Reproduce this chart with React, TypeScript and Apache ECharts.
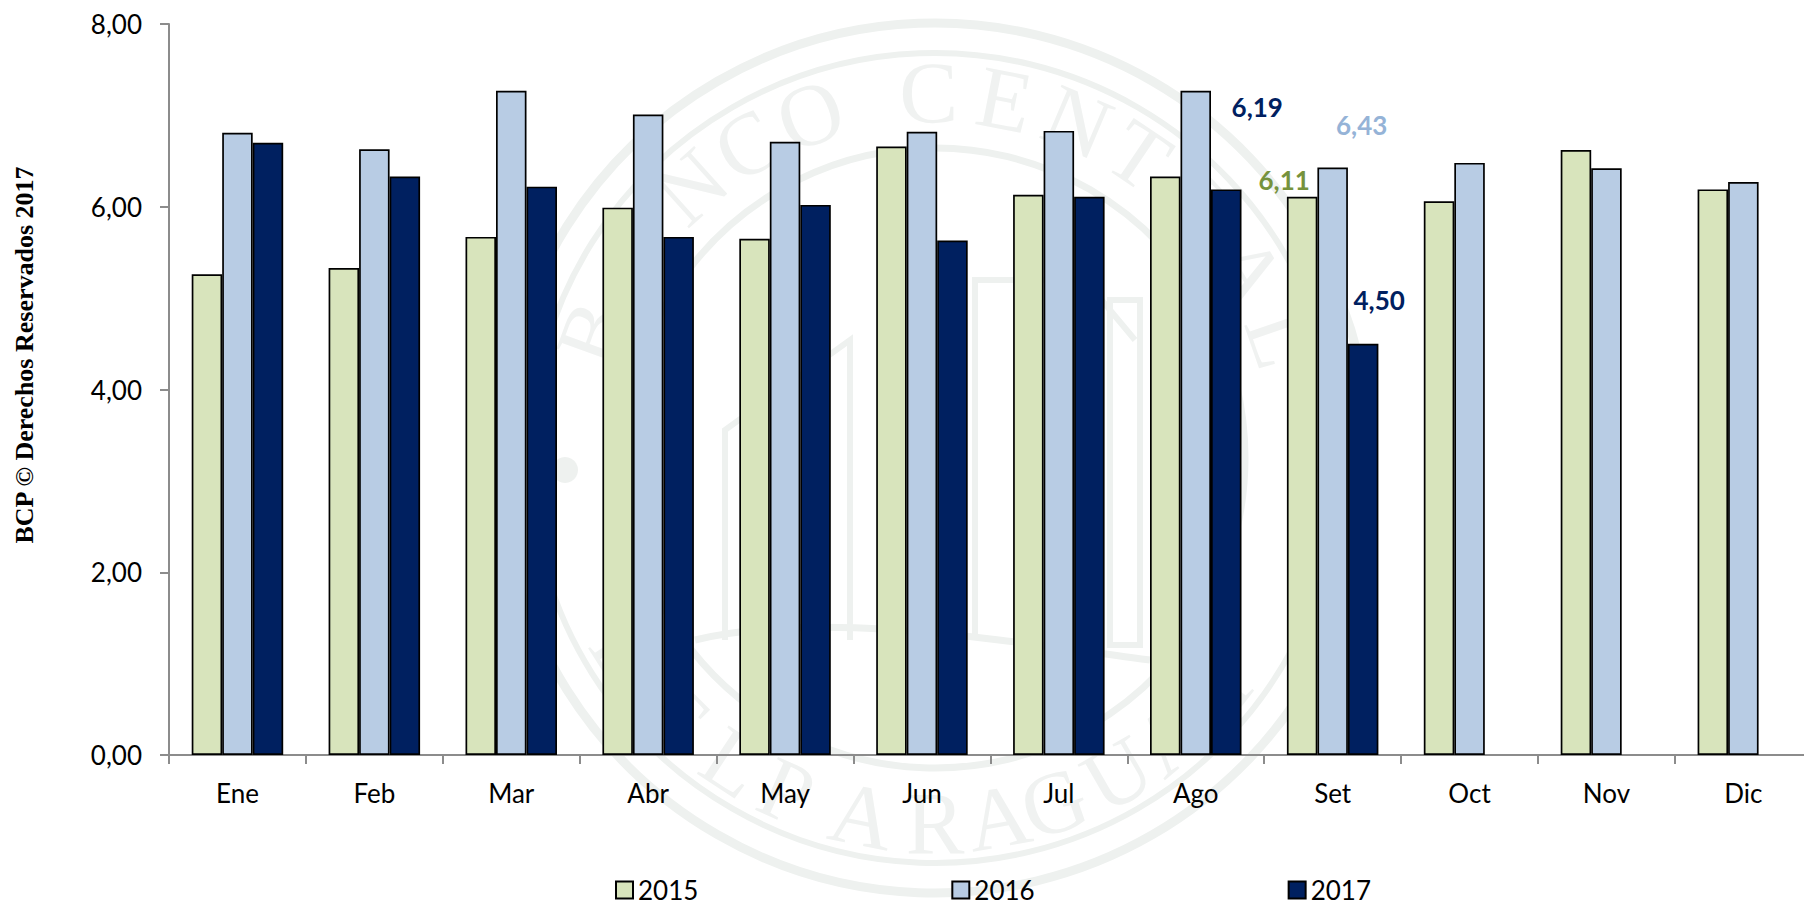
import React, { useEffect, useRef } from "react";
import * as echarts from "echarts";

const categories = ["Ene", "Feb", "Mar", "Abr", "May", "Jun", "Jul", "Ago", "Set", "Oct", "Nov", "Dic"];
const values2015 = [5.26, 5.33, 5.67, 5.99, 5.65, 6.66, 6.13, 6.33, 6.11, 6.06, 6.62, 6.19];
const values2016 = [6.81, 6.63, 7.27, 7.01, 6.71, 6.82, 6.83, 7.27, 6.43, 6.48, 6.42, 6.27];
const values2017 = [6.7, 6.33, 6.22, 5.67, 6.02, 5.63, 6.11, 6.19, 4.5, null, null, null];
const seriesNames = ["2015", "2016", "2017"];
const topLetters = "BANCOCENTRAL".split("");
const topAngles = [-70, -56, -42, -31, -20, -1, 11, 23, 34, 47, 59, 71];
const bottomLetters = "DELPARAGUAY".split("");
const bottomAngles = [237, 225, 213.5, 204, 191.5, 180, 170, 161, 150, 140, 128];

const FONT = "Lato";
const WM = "#eef1ef";
const WM_TEXT = "#f0f2f1";
const fmt = (v: number) => v.toFixed(2).replace(".", ",");

function ring(cx: number, cy: number, r: number, lineWidth: number) {
  return { type: "circle", z: 0, silent: true, shape: { cx, cy, r }, style: { fill: "none", stroke: WM, lineWidth } };
}

function watermark() {
  const cx = 935;
  const cy = 458;
  const r = 365;
  const els: any[] = [
    ring(cx, cy, 435, 9),
    ring(cx, cy, 405, 6),
    ring(cx, cy, 310, 7),
    { type: "circle", z: 0, silent: true, shape: { cx: 565, cy: 470, r: 13 }, style: { fill: WM } },
    { type: "circle", z: 0, silent: true, shape: { cx: 1305, cy: 470, r: 13 }, style: { fill: WM } },
    { type: "polyline", z: 0, silent: true, shape: { points: [[725, 640], [725, 430], [850, 340], [850, 640]] }, style: { fill: "none", stroke: WM, lineWidth: 6 } },
    { type: "polyline", z: 0, silent: true, shape: { points: [[975, 640], [975, 280], [1085, 280], [1135, 340]] }, style: { fill: "none", stroke: WM, lineWidth: 6 } },
    { type: "rect", z: 0, silent: true, shape: { x: 1110, y: 300, width: 30, height: 345 }, style: { fill: "none", stroke: WM, lineWidth: 6 } },
    { type: "bezierCurve", z: 0, silent: true, shape: { x1: 695, y1: 640, x2: 1150, y2: 660, cpx1: 820, cpy1: 610, cpx2: 1000, cpy2: 640 }, style: { fill: "none", stroke: WM, lineWidth: 7 } },
  ];
  const place = (ch: string, deg: number, flip: boolean) => {
    const a = (deg * Math.PI) / 180;
    els.push({
      type: "text",
      z: 0,
      silent: true,
      x: cx + r * Math.sin(a),
      y: cy - r * Math.cos(a),
      rotation: flip ? -(a - Math.PI) : -a,
      style: { text: ch, font: "88px 'Liberation Serif'", fill: WM_TEXT, align: "center", verticalAlign: "middle" },
    });
  };
  topLetters.forEach((ch, i) => place(ch, topAngles[i], false));
  bottomLetters.forEach((ch, i) => place(ch, bottomAngles[i], true));
  return els;
}

function spot(color: string, offset: number[]) {
  return {
    show: true,
    position: "top",
    distance: 5,
    offset,
    color,
    fontFamily: FONT,
    fontWeight: 700,
    fontSize: 26,
    formatter: (p: any) => fmt(p.value),
  };
}

function barSeries(name: string, values: (number | null)[], color: string, labelled?: { index: number; color: string; offset: number[] }) {
  return {
    name,
    type: "bar",
    barWidth: 30.5,
    barGap: "0%",
    z: 2,
    itemStyle: { color, borderColor: "#000000", borderWidth: 1.7 },
    data: values.map((v, i) => (labelled && labelled.index === i ? { value: v, label: spot(labelled.color, labelled.offset) } : v)),
  };
}

export default function App() {
  const ref = useRef<HTMLDivElement>(null);
  useEffect(() => {
    const chart = echarts.init(ref.current!, undefined, { renderer: "svg" });
    const s2017 = barSeries(seriesNames[2], values2017, "#002060", { index: 8, color: "#002060", offset: [16, -26] }) as any;
    s2017.data[7] = { value: values2017[7], label: spot("#002060", [31, -64]) };
    chart.setOption({
      animation: false,
      backgroundColor: "#ffffff",
      textStyle: { fontFamily: FONT },
      graphic: {
        elements: [
          ...watermark(),
          {
            type: "text",
            z: 5,
            x: 24,
            y: 355,
            rotation: Math.PI / 2,
            style: {
              text: "BCP © Derechos Reservados 2017",
              font: "bold 26px 'Liberation Serif'",
              fill: "#000000",
              align: "center",
              verticalAlign: "middle",
            },
          },
        ],
      },
      legend: {
        left: 615,
        top: 877,
        padding: 0,
        itemWidth: 17,
        itemHeight: 17,
        itemGap: 253,
        icon: "rect",
        selectedMode: false,
        data: seriesNames,
        textStyle: { fontFamily: FONT, fontSize: 26, color: "#000000" },
      },
      grid: { left: 169, top: 24, width: 1642.8, height: 731 },
      xAxis: {
        type: "category",
        data: categories,
        boundaryGap: true,
        axisLine: { lineStyle: { color: "#8c8c8c", width: 2 } },
        axisTick: { show: true, length: 9, alignWithLabel: false, lineStyle: { color: "#8c8c8c", width: 2 } },
        axisLabel: { color: "#000000", fontFamily: FONT, fontSize: 26, margin: 25, interval: 0 },
      },
      yAxis: {
        type: "value",
        min: 0,
        max: 8,
        interval: 2,
        splitLine: { show: false },
        axisLine: { show: true, lineStyle: { color: "#8c8c8c", width: 2 } },
        axisTick: { show: true, length: 9, lineStyle: { color: "#8c8c8c", width: 2 } },
        axisLabel: { color: "#000000", fontFamily: FONT, fontSize: 26, margin: 27, formatter: (v: number) => fmt(v) },
      },
      series: [
        barSeries(seriesNames[0], values2015, "#D8E4BC", { index: 8, color: "#76923C", offset: [-18, 1] }),
        barSeries(seriesNames[1], values2016, "#B8CCE4", { index: 8, color: "#95B3D7", offset: [29, -24] }),
        s2017,
      ],
    });
    return () => chart.dispose();
  }, []);
  return (
    <div style={{ position: "fixed", left: 0, top: 0, width: 1804, height: 904, overflow: "hidden", background: "#ffffff" }}>
      <div ref={ref} style={{ width: 1830, height: 904 }} />
    </div>
  );
}
